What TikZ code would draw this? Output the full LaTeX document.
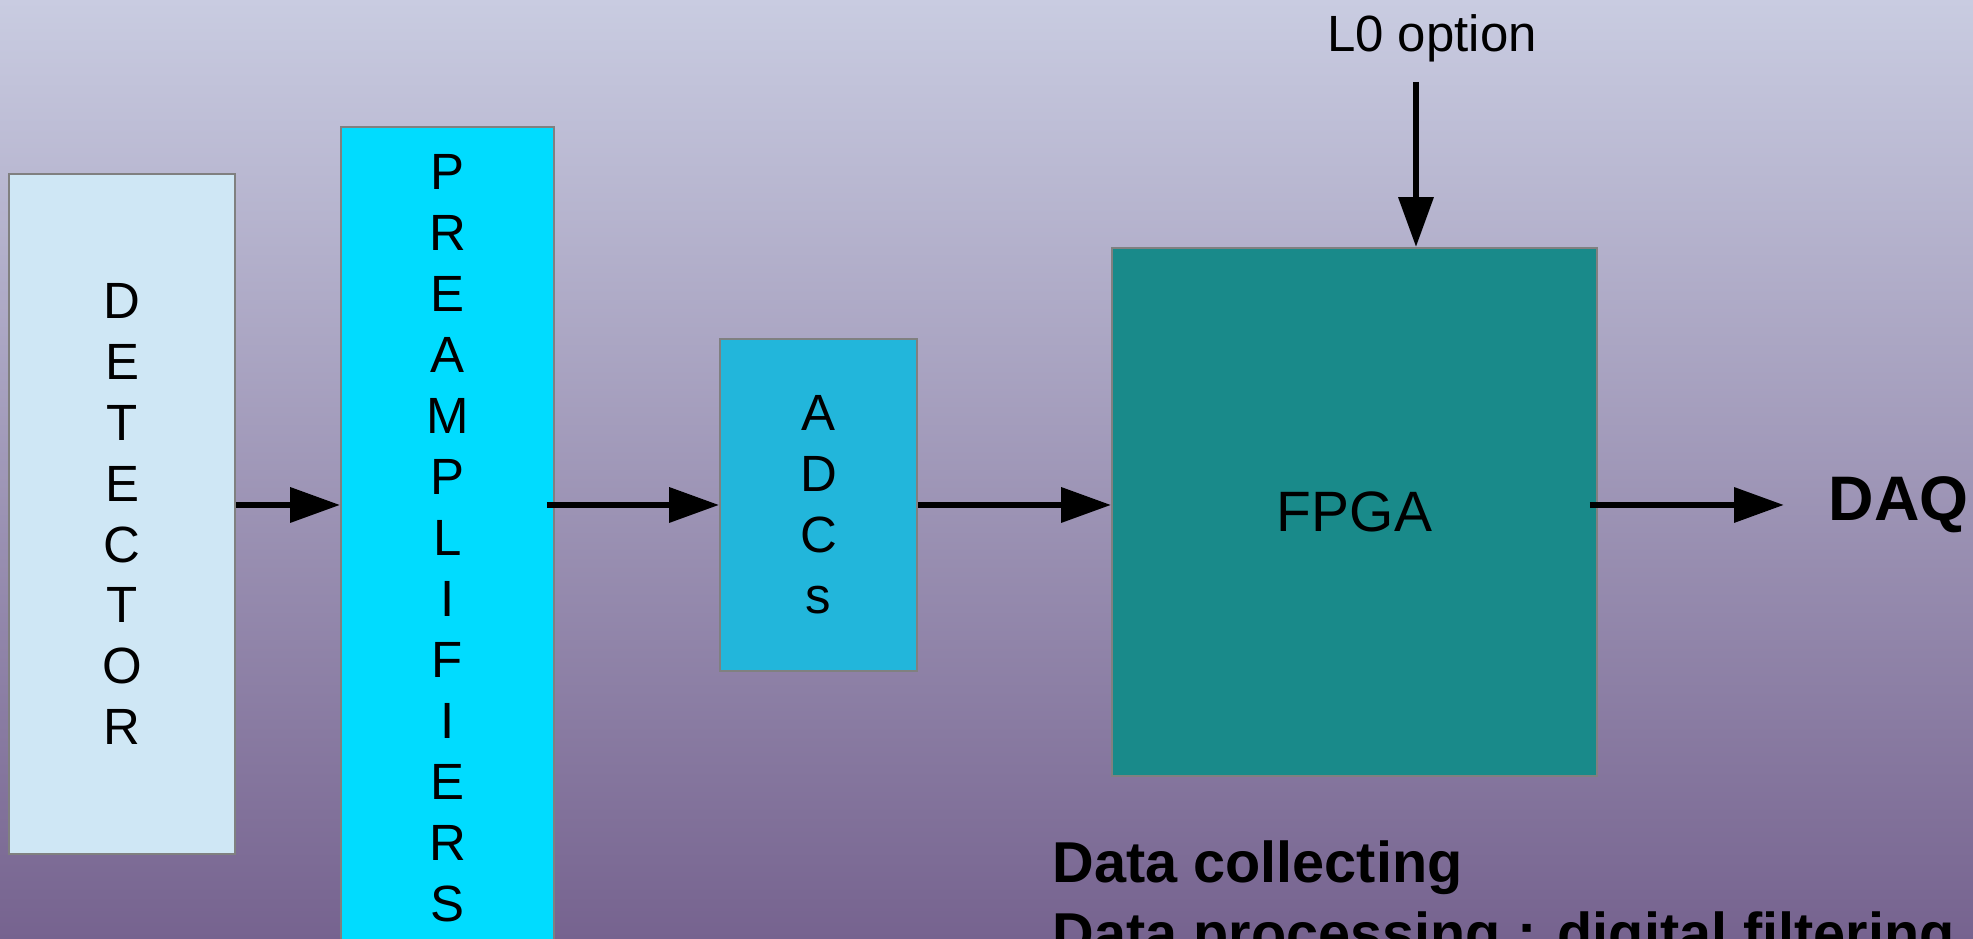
\documentclass[tikz,border=0pt]{standalone}
\usepackage{fontspec}
\setmainfont{Liberation Sans}
\usepackage{tikz}
\usetikzlibrary{arrows.meta}

\definecolor{bgtop}{RGB}{201,204,225}
\definecolor{bgbot}{RGB}{118,99,143}
\definecolor{detfill}{RGB}{207,231,245}
\definecolor{prefill}{RGB}{0,220,255}
\definecolor{adcfill}{RGB}{34,182,219}
\definecolor{fpgafill}{RGB}{25,138,138}

\begin{document}
\begin{tikzpicture}[
    box/.style={draw=gray, line width=0.5pt, minimum width=#1, inner sep=0pt, align=center,
                font=\fontsize{14.5}{17.35}\selectfont},
    flow/.style={line width=1.9pt, -{Triangle[length=0.5cm, width=0.34cm]}}
  ]

  \def\W{19.73}
  \def\H{9.39}

  % frame and background
  \useasboundingbox (0,0) rectangle (\W,\H);
  \clip (0,0) rectangle (\W,\H);
  \shade[top color=bgtop, bottom color=bgbot] (0,0) rectangle (\W,\H);

  % height of the signal line
  \coordinate (row) at (0,4.34);

  % Blocks
  \node[box=2.26cm, fill=detfill, minimum height=6.80cm] (det) at (1.22,4.25)
    {D\\E\\T\\E\\C\\T\\O\\R};
  \node[box=2.13cm, fill=prefill, minimum height=8.23cm] (pre) at (4.475,4.005)
    {P\\R\\E\\A\\M\\P\\L\\I\\F\\I\\E\\R\\S};
  \node[box=1.97cm, fill=adcfill, minimum height=3.32cm] (adc) at (8.185,4.34)
    {A\\D\\C\\s};
  \node[box=4.85cm, fill=fpgafill, minimum height=5.28cm, font=\fontsize{16.2}{19}\selectfont] (fpga) at (13.545,4.27)
    {FPGA};

  % Labels
  \node[anchor=west, inner sep=0pt, font=\fontsize{17.9}{21}\selectfont\bfseries] (daq) at (18.28,4.34) {DAQ};
  \node[anchor=base, inner sep=0pt, font=\fontsize{14.5}{17.35}\selectfont] (lzero) at (14.32,8.87) {L0 option};
  \coordinate (lzerotop) at (14.16,8.57);
  % base of a two-line node is the last line
  \node[anchor=base west, inner sep=0pt, align=left, font=\fontsize{16.4}{20.2}\selectfont\bfseries] (notes) at (10.52,-0.15)
    {Data collecting\\Data processing : digital filtering};

  % Signal path
  \draw[flow] (det.east |- row) -- (pre.west |- row);
  \draw[flow] ([xshift=-0.08cm]pre.east |- row) -- (adc.west |- row);
  \draw[flow] (adc.east |- row) -- (fpga.west |- row);
  \draw[flow] ([xshift=-0.08cm]fpga.east |- row) -- ([xshift=-0.44cm]daq.west);
  \draw[flow] (lzerotop) -- (lzerotop |- fpga.north);

\end{tikzpicture}
\end{document}
